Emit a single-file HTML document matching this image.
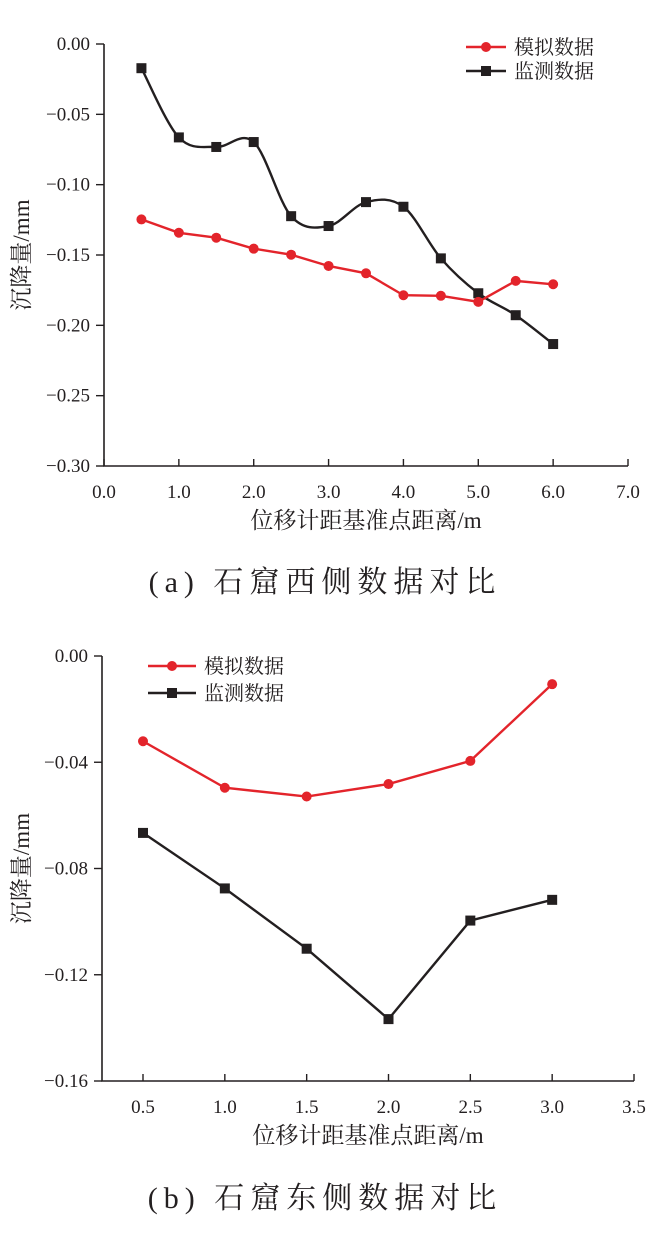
<!DOCTYPE html>
<html><head><meta charset="utf-8">
<style>
body{margin:0;background:#fff;width:651px;height:1235px;overflow:hidden;}
svg{display:block;}
text{font-family:"Liberation Serif","Noto Serif CJK SC",serif;fill:#231f20;}
</style></head>
<body>
<svg id="svg" width="651" height="1235" viewBox="0 0 651 1235">
<text x="325" y="592" text-anchor="middle" font-size="30" letter-spacing="6">(a) 石窟西侧数据对比</text>
<text x="325" y="1208" text-anchor="middle" font-size="30" letter-spacing="6">(b) 石窟东侧数据对比</text>
</svg>
<script>
const aX = [0.5,1.0,1.5,2.0,2.5,3.0,3.5,4.0,4.5,5.0,5.5,6.0];
const aSim = [-0.1247,-0.1342,-0.1377,-0.1455,-0.1498,-0.1578,-0.163,-0.1786,-0.179,-0.1833,-0.1684,-0.1708];
const aMon = [-0.0172,-0.0664,-0.0732,-0.0697,-0.1224,-0.1294,-0.1124,-0.1157,-0.1524,-0.1772,-0.1928,-0.2133];
const aXTicks = [0,1,2,3,4,5,6,7];
const aXTickLabels = ["0.0","1.0","2.0","3.0","4.0","5.0","6.0","7.0"];
const aYTicks = [0,-0.05,-0.10,-0.15,-0.20,-0.25,-0.30];
const aYTickLabels = ["0.00","−0.05","−0.10","−0.15","−0.20","−0.25","−0.30"];

const bX = [0.5,1.0,1.5,2.0,2.5,3.0];
const bSim = [-0.0321,-0.0496,-0.0529,-0.0482,-0.0395,-0.0106];
const bMon = [-0.0666,-0.0875,-0.1102,-0.1367,-0.0996,-0.0918];
const bXTicks = [0.5,1.0,1.5,2.0,2.5,3.0,3.5];
const bXTickLabels = ["0.5","1.0","1.5","2.0","2.5","3.0","3.5"];
const bYTicks = [0,-0.04,-0.08,-0.12,-0.16];
const bYTickLabels = ["0.00","−0.04","−0.08","−0.12","−0.16"];

const NS="http://www.w3.org/2000/svg";
const svg=document.getElementById('svg');
function mk(tag,attrs,parent){const e=document.createElementNS(NS,tag);for(const k in attrs)e.setAttribute(k,attrs[k]);(parent||svg).appendChild(e);return e;}

function spline(pts){
  let d=`M${pts[0][0]},${pts[0][1]}`;
  for(let i=0;i<pts.length-1;i++){
    const p0=pts[i-1]||pts[i],p1=pts[i],p2=pts[i+1],p3=pts[i+2]||p2;
    const c1=[p1[0]+(p2[0]-p0[0])/6,p1[1]+(p2[1]-p0[1])/6];
    const c2=[p2[0]-(p3[0]-p1[0])/6,p2[1]-(p3[1]-p1[1])/6];
    d+=` C${c1[0]},${c1[1]} ${c2[0]},${c2[1]} ${p2[0]},${p2[1]}`;
  }
  return d;
}

function drawChart(cfg){
  const g=mk('g',{});
  
  
  const sx=v=>cfg.x0px+(v-cfg.x0v)*(cfg.x1px-cfg.x0px)/(cfg.x1v-cfg.x0v);
  const sy=v=>cfg.y0px+(v-cfg.y0v)*(cfg.y1px-cfg.y0px)/(cfg.y1v-cfg.y0v);
  const ax=mk('path',{d:`M${cfg.left},${cfg.top} V${cfg.bottom} H${cfg.right}`,fill:'none',stroke:'#231f20','stroke-width':1.6},g);
  
  
  cfg.yTicks.forEach((v,i)=>{
    const y=sy(v);
    mk('line',{x1:cfg.left-8,x2:cfg.left,y1:y,y2:y,stroke:'#231f20','stroke-width':1.4},g);
    const t=mk('text',{x:cfg.left-14,y:y+6,'text-anchor':'end','font-size':19},g);
    t.textContent=cfg.yLabels[i];
    
    
  });
  cfg.xTicks.forEach((v,i)=>{
    const x=sx(v);
    mk('line',{x1:x,x2:x,y1:cfg.bottom-7,y2:cfg.bottom,stroke:'#231f20','stroke-width':1.4},g);
    const t=mk('text',{x:x,y:cfg.bottom+32,'text-anchor':'middle','font-size':19},g);
    t.textContent=cfg.xLabels[i];
    
    
  });
  const xt=mk('text',{x:cfg.xTitleX,y:cfg.bottom+62,'text-anchor':'middle','font-size':23},g);
  xt.textContent='位移计距基准点距离/m';
  
  
  const ycy=(cfg.top+cfg.bottom)/2;
  const yt=mk('text',{x:0,y:0,'text-anchor':'middle','font-size':23,transform:`translate(29,${ycy}) rotate(-90)`},g);
  yt.textContent='沉降量/mm';
  
  
  const monPts=cfg.xs.map((v,i)=>[sx(v),sy(cfg.mon[i])]);
  const simPts=cfg.xs.map((v,i)=>[sx(v),sy(cfg.sim[i])]);
  const mp=mk('path',{d:cfg.smooth?spline(monPts):'M'+monPts.map(p=>p.join(',')).join(' L'),fill:'none',stroke:'#231f20','stroke-width':2.4},g);
  
  
  const rp=mk('path',{d:'M'+simPts.map(p=>p.join(',')).join(' L'),fill:'none',stroke:'#e3242b','stroke-width':2.4},g);
  
  
  monPts.forEach(p=>{
    const r=mk('rect',{x:p[0]-5,y:p[1]-5,width:10,height:10,fill:'#231f20'},g);
    
    
  });
  simPts.forEach(p=>{
    const c=mk('circle',{cx:p[0],cy:p[1],r:5,fill:'#e3242b'},g);
    
    
  });
  const L=cfg.legend;
  [['模拟数据','#e3242b','c',L.y1,'legend-simulated'],['监测数据','#231f20','s',L.y2,'legend-monitored']].forEach(e=>{
    const lg=mk('g',{},g);
    
    
    mk('line',{x1:L.x1,x2:L.x2,y1:e[3],y2:e[3],stroke:e[1],'stroke-width':2.6},lg);
    const m=(L.x1+L.x2)/2;
    if(e[2]==='c')mk('circle',{cx:m,cy:e[3],r:5,fill:e[1]},lg);
    else mk('rect',{x:m-5,y:e[3]-5,width:10,height:10,fill:e[1]},lg);
    const t=mk('text',{x:L.x2+8,y:e[3]+7,'font-size':20},lg);
    t.textContent=e[0];
  });
}

drawChart({name:'chart-a',xs:aX,sim:aSim,mon:aMon,smooth:true,
  xTicks:aXTicks,xLabels:aXTickLabels,yTicks:aYTicks,yLabels:aYTickLabels,
  x0v:0,x1v:7,x0px:104,x1px:628,y0v:0,y1v:-0.30,y0px:44,y1px:466,
  left:104,right:628,top:44,bottom:466,xTitleX:366,
  legend:{x1:466,x2:506,y1:47,y2:71}});
drawChart({name:'chart-b',xs:bX,sim:bSim,mon:bMon,smooth:false,
  xTicks:bXTicks,xLabels:bXTickLabels,yTicks:bYTicks,yLabels:bYTickLabels,
  x0v:0.5,x1v:3.5,x0px:143,x1px:634,y0v:0,y1v:-0.16,y0px:656,y1px:1081,
  left:102,right:634,top:656,bottom:1081,xTitleX:368,
  legend:{x1:148,x2:196,y1:666,y2:693}});
</script>
</body></html>
